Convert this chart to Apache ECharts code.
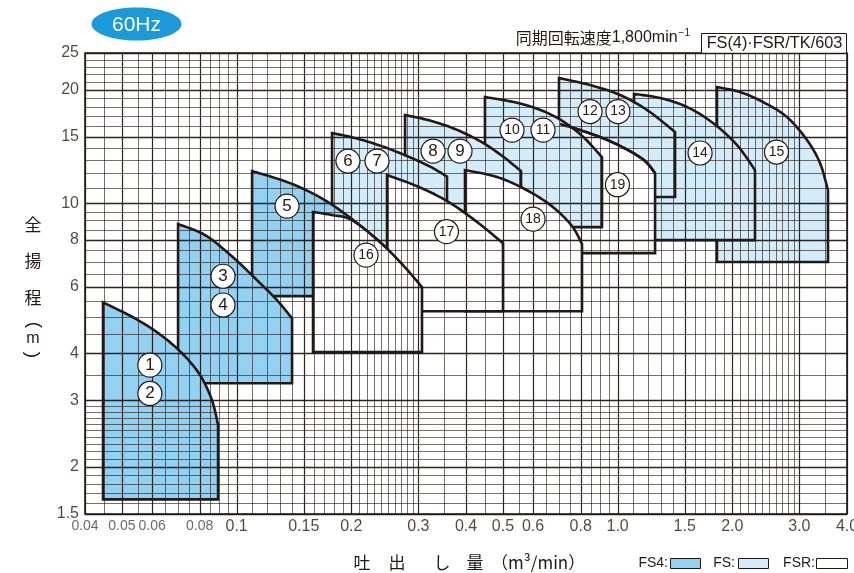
<!DOCTYPE html>
<html><head><meta charset="utf-8">
<script src="https://cdn.jsdelivr.net/npm/echarts@6/dist/echarts.min.js"></script>
<style>html,body{margin:0;padding:0;background:#fff}#c{width:854px;height:573px}</style>
</head><body><div id="c"></div>
<script>
// ---------- axis ranges & tick labels ----------
const X_MIN = 0.04, X_MAX = 4.0, Y_MIN = 1.5, Y_MAX = 25;
const xTickValues = [0.04,0.05,0.06,0.08,0.1,0.15,0.2,0.3,0.4,0.5,0.6,0.8,1.0,1.5,2.0,3.0,4.0];
const xTickText   = ['0.04','0.05','0.06','0.08','0.1','0.15','0.2','0.3','0.4','0.5','0.6','0.8','1.0','1.5','2.0','3.0','4.0'];
const yTickValues = [1.5,2,3,4,6,8,10,15,20,25];
const yTickText   = ['1.5','2','3','4','6','8','10','15','20','25'];

// ---------- graph-paper grid lines ----------
const xGridLines = [0.04,0.045,0.05,0.055,0.06,0.065,0.07,0.075,0.08,0.085,0.09,0.095,0.1,
  0.11,0.12,0.13,0.14,0.15,0.16,0.17,0.18,0.19,0.2,0.21,0.22,0.23,0.24,0.25,0.26,0.27,0.28,0.29,0.3,
  0.35,0.4,0.45,0.5,0.55,0.6,0.65,0.7,0.75,0.8,0.85,0.9,0.95,1.0,
  1.1,1.2,1.3,1.4,1.5,1.6,1.7,1.8,1.9,2.0,2.1,2.2,2.3,2.4,2.5,2.6,2.7,2.8,2.9,3.0,3.5,4.0];
const yGridLines = [1.5,1.6,1.7,1.8,1.9,2,2.1,2.2,2.3,2.4,2.5,2.6,2.7,2.8,2.9,3,3.5,4,4.5,5,5.5,6,6.5,7,7.5,8,8.5,9,9.5,10,
  11,12,13,14,15,16,17,18,19,20,21,22,23,24,25];

// ---------- performance ranges: top curve [Q m3/min, H m] ----------
const curve15   = [[1.823,20.31],[2.095,19.70],[2.407,18.54],[2.783,16.91],[3.141,14.70],[3.398,12.77],[3.566,10.82]];
const curve14   = [[1.104,19.47],[1.292,19.00],[1.521,17.98],[1.780,16.30],[2.058,14.25],[2.294,12.23]];
const curve12_13= [[0.7016,21.46],[0.8463,20.56],[1.015,19.35],[1.195,17.65],[1.415,15.43]];
const curve19   = [[0.7059,16.20],[0.7967,15.62],[0.9267,14.79],[1.065,13.82],[1.180,12.93],[1.254,12.01]];
const curve10_11= [[0.4486,19.11],[0.5544,18.37],[0.6726,17.12],[0.7967,15.25],[0.9100,13.24]];
const curve8_9  = [[0.2767,17.12],[0.3219,16.55],[0.3743,15.72],[0.4354,14.60],[0.4943,13.41],[0.5578,12.16]];
const curve6_7  = [[0.1780,15.34],[0.2070,14.83],[0.2423,14.12],[0.2800,13.33],[0.3219,12.50],[0.3566,11.76]];
const curve5    = [[0.1098,12.16],[0.1381,11.30],[0.1686,10.25],[0.2008,9.07],[0.2379,7.88],[0.2733,6.85],[0.3066,5.99]];
const curve3_4  = [[0.0702,8.80],[0.0826,8.23],[0.0972,7.23],[0.1131,6.25],[0.1277,5.53],[0.1398,4.95]];
const curve1_2  = [[0.0446,5.46],[0.0541,4.95],[0.0629,4.49],[0.0719,4.00],[0.0802,3.50],[0.0862,3.00],[0.0894,2.58]];
const curve18   = [[0.3976,12.23],[0.4825,11.73],[0.5784,10.82],[0.6767,9.76],[0.7592,8.69],[0.8064,7.79]];
const curve17   = [[0.2482,11.87],[0.2974,11.09],[0.3566,10.13],[0.4249,8.96],[0.5003,7.83]];
const curve16   = [[0.1587,9.47],[0.1791,9.29],[0.2008,9.01],[0.2379,7.88],[0.2733,6.85],[0.3066,5.99]];

// bottom head of each range (m), drawing order (back to front)
const regionOrder  = ['15','14','12/13','19','10/11','8/9','6/7','5','3/4','1/2','18','17','16'];
const regionKind   = ['FS','FS','FS','FSR','FS','FS','FS','FS4','FS4','FS4','FSR','FSR','FSR'];
const regionBottom = [6.98, 7.98, 10.38, 7.37, 8.64, 5.6, 5.5, 5.67, 3.33, 1.64, 5.17, 5.17, 4.03];
const regionCurves = [curve15,curve14,curve12_13,curve19,curve10_11,curve8_9,curve6_7,curve5,curve3_4,curve1_2,curve18,curve17,curve16];

// ---------- circled model numbers ----------
const markNumbers = ['1','2','3','4','5','6','7','8','9','10','11','12','13','14','15','16','17','18','19'];
const markQ = [0.0592,0.0592,0.0921,0.0921,0.1356,0.196,0.2336,0.3278,0.3858,0.5283,0.6371,0.8465,1.002,1.646,2.612,0.2186,0.3555,0.5997,0.9991];
const markH = [3.72,3.13,6.40,5.37,9.82,12.93,12.93,13.74,13.74,15.62,15.62,17.49,17.49,13.58,13.66,7.28,8.40,9.07,11.19];

const INK = '#231815';
const fillColor = {FS4:'#92d1f1', FS:'#d3ecf9', FSR:'#ffffff'};

function smoothPts(pts){
  if (pts.length < 3) return pts.slice();
  const out = [pts[0]];
  for (let i = 0; i < pts.length - 1; i++) {
    const p0 = pts[i-1] || pts[i], p1 = pts[i], p2 = pts[i+1], p3 = pts[i+2] || pts[i+1];
    for (let t = 1; t <= 12; t++) {
      const s = t/12, s2 = s*s, s3 = s2*s;
      const f = k => 0.5*((2*p1[k]) + (-p0[k]+p2[k])*s + (2*p0[k]-5*p1[k]+4*p2[k]-p3[k])*s2 + (-p0[k]+3*p1[k]-3*p2[k]+p3[k])*s3);
      out.push([f(0), f(1)]);
    }
  }
  return out;
}

const chart = echarts.init(document.getElementById('c'), null, {renderer:'canvas'});
const JP = '"Noto Sans CJK JP", sans-serif';
const hidden = {show:false};
function t(x, y, text, font, align, rot){
  return {type:'text', x:x, y:y, rotation:rot || 0, style:{text:text, fill:INK, font:font, align:align || 'center', verticalAlign:'middle'}};
}
const option = {
  animation:false,
  textStyle:{fontFamily:'Liberation Sans, Arial, sans-serif'},
  grid:{left:85, right:7, top:53, bottom:59, show:true, borderColor:INK, borderWidth:1.6, backgroundColor:'transparent'},
  xAxis:{type:'log', logBase:10, min:X_MIN, max:X_MAX, axisLine:hidden, axisTick:hidden, axisLabel:hidden, splitLine:hidden},
  yAxis:{type:'log', logBase:10, min:Y_MIN, max:Y_MAX, axisLine:hidden, axisTick:hidden, axisLabel:hidden, splitLine:hidden},
  series:[
    { // performance ranges
      type:'custom', coordinateSystem:'cartesian2d', z:2, silent:true,
      data: regionCurves.map(c => c[0]),
      renderItem(params, api){
        const i = params.dataIndex;
        const c = regionCurves[i];
        const curvePx = smoothPts(c.map(p => api.coord(p)));
        const bl = api.coord([c[0][0], regionBottom[i]]);
        const br = api.coord([c[c.length-1][0], regionBottom[i]]);
        return {type:'polygon', z2:i, shape:{points:[bl].concat(curvePx, [br])},
          style:{fill:fillColor[regionKind[i]], stroke:INK, lineWidth:2.6, lineJoin:'miter'}};
      }
    },
    { // vertical grid lines
      type:'custom', coordinateSystem:'cartesian2d', z:3, silent:true,
      data: xGridLines.map(v => [v, Y_MIN]),
      renderItem(params, api){
        const v = api.value(0);
        const major = xTickValues.some(t => Math.abs(t - v) < 1e-9);
        const a = api.coord([v, Y_MIN]), b = api.coord([v, Y_MAX]);
        const x = Math.round(a[0]) + 0.5;
        return {type:'line', shape:{x1:x, y1:a[1], x2:x, y2:b[1]},
          style:{stroke: major ? 'rgba(35,24,21,0.95)' : 'rgba(35,24,21,0.62)', lineWidth: major ? 1.2 : 1}};
      }
    },
    { // horizontal grid lines
      type:'custom', coordinateSystem:'cartesian2d', z:3, silent:true,
      data: yGridLines.map(v => [X_MIN, v]),
      renderItem(params, api){
        const v = api.value(1);
        const major = yTickValues.some(t => Math.abs(t - v) < 1e-9);
        const a = api.coord([X_MIN, v]), b = api.coord([X_MAX, v]);
        const y = Math.round(a[1]) + 0.5;
        return {type:'line', shape:{x1:a[0], y1:y, x2:b[0], y2:y},
          style:{stroke: major ? 'rgba(35,24,21,0.95)' : 'rgba(35,24,21,0.62)', lineWidth: major ? 1.3 : 1}};
      }
    },
    { // top curve of 19 visible through 10/11
      type:'custom', coordinateSystem:'cartesian2d', z:4, silent:true,
      data:[curve19[0]],
      renderItem(params, api){
        const pts = smoothPts(curve19.map(p => api.coord(p)));
        return {type:'polyline', shape:{points:pts}, style:{stroke:INK, lineWidth:2.6, fill:null}};
      }
    },
    { // circled numbers
      type:'scatter', z:6, silent:true, symbol:'circle', symbolSize:24,
      itemStyle:{color:'#fff', borderColor:INK, borderWidth:1.2, opacity:1},
      label:{show:true, position:'inside', formatter:'{b}', color:INK, fontSize:17, fontFamily:'Liberation Sans, Arial'},
      data: markNumbers.map((n,i) => ({name:n, value:[markQ[i], markH[i]],
        label: n.length > 1 ? {fontSize:14, fontFamily:'Liberation Sans Narrow, Liberation Sans, Arial'} : {}}))
    },
    { // x tick labels
      type:'scatter', z:6, silent:true, symbolSize:0, clip:false,
      label:{show:true, position:'bottom', distance:5, formatter:'{b}', color:INK, fontSize:16},
      data: xTickValues.map((v,i) => ({name:xTickText[i], value:[v, Y_MIN],
        label: v < 0.09 ? {fontSize:14, color:'#444', fontFamily:'Liberation Sans Narrow, Liberation Sans, Arial'} : {}}))
    },
    { // y tick labels
      type:'scatter', z:6, silent:true, symbolSize:0, clip:false,
      label:{show:true, position:'left', distance:6, formatter:'{b}', color:INK, fontSize:16},
      data: yTickValues.map((v,i) => ({name:yTickText[i], value:[X_MIN, v]}))
    }
  ],
  graphic:[
    {type:'ellipse', shape:{cx:136.5, cy:24, rx:45, ry:16.5}, style:{fill:'#1a9ad9'}},
    {type:'text', x:136.5, y:25, style:{text:'60Hz', fill:'#fff', font:'21px "Liberation Sans", Arial', align:'center', verticalAlign:'middle'}},
    {type:'text', x:690, y:38, style:{text:'{a|同期回転速度}{b|1,800min}{s|−1}', align:'right', verticalAlign:'middle',
      rich:{a:{fontSize:16, fontFamily:JP, fill:INK}, b:{fontSize:16, fontFamily:'"Liberation Sans"', fill:INK},
            s:{fontSize:10, fontFamily:'"Liberation Sans"', fill:INK, verticalAlign:'top', padding:[0,0,9,1]}}}},
    {type:'rect', shape:{x:701.5, y:33.5, width:145, height:20}, style:{fill:'#fff', stroke:INK, lineWidth:1}},
    t(774.5, 44, 'FS(4)·FSR/TK/603', '16.3px "Liberation Sans", Arial'),
    // y-axis title
    t(33, 225, '全', '17px ' + JP),
    t(33, 261, '揚', '17px ' + JP),
    t(33, 298, '程', '17px ' + JP),
    t(34, 325, '(', '19px "Liberation Sans"', 'center', -Math.PI/2),
    t(33, 339, 'm', '16px "Liberation Sans"'),
    t(32, 355, ')', '19px "Liberation Sans"', 'center', -Math.PI/2),
    // x-axis title
    t(362, 563, '吐', '17px ' + JP),
    t(397, 563, '出', '17px ' + JP),
    t(442, 563, 'し', '17px ' + JP),
    t(475, 563, '量', '17px ' + JP),
    t(491, 563, '（m³/min）', '17px ' + JP, 'left'),
    // legend
    t(668, 563, 'FS4:', '14px "Liberation Sans"', 'right'),
    {type:'rect', shape:{x:670.5, y:558.5, width:30, height:10}, style:{fill:fillColor.FS4, stroke:INK, lineWidth:1}},
    t(735, 563, 'FS:', '14px "Liberation Sans"', 'right'),
    {type:'rect', shape:{x:738.5, y:558.5, width:30, height:10}, style:{fill:fillColor.FS, stroke:INK, lineWidth:1}},
    t(815, 563, 'FSR:', '14px "Liberation Sans"', 'right'),
    {type:'rect', shape:{x:816.5, y:558.5, width:31, height:10}, style:{fill:fillColor.FSR, stroke:INK, lineWidth:1}}
  ]
};
chart.setOption(option);
</script>
</body></html>
